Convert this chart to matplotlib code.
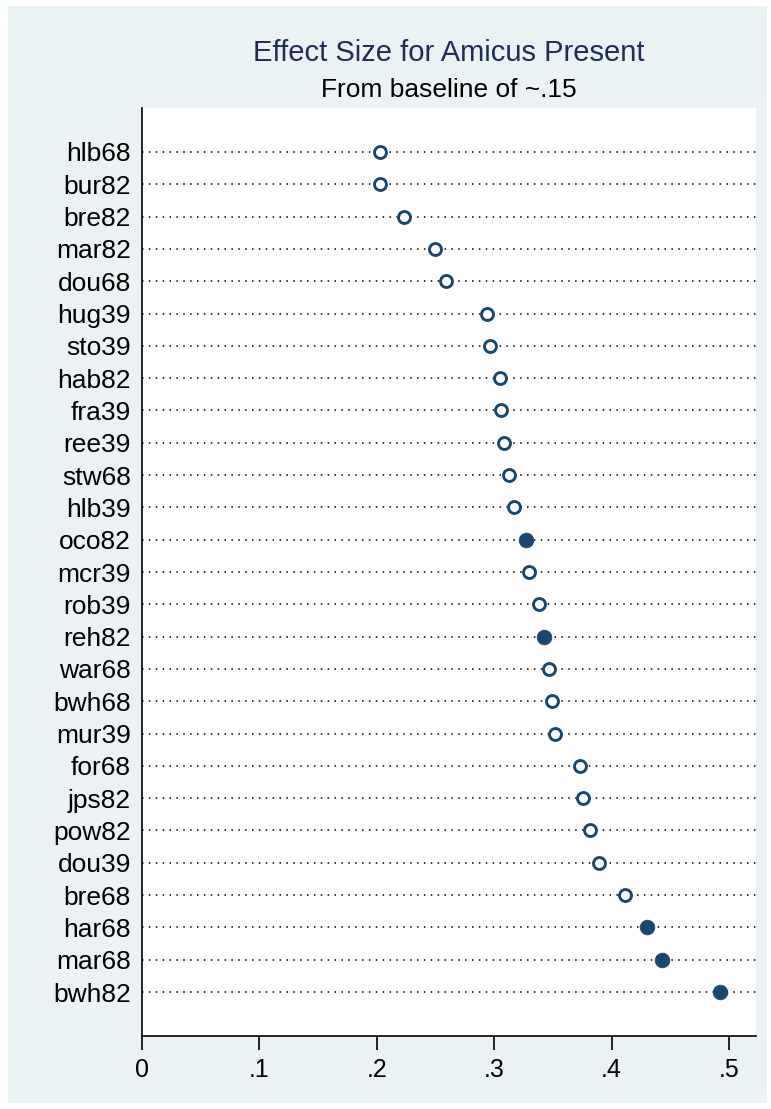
import numpy as np
import matplotlib.pyplot as plt
from matplotlib.patches import Rectangle

plt.rcParams['font.family'] = ['Liberation Sans', 'DejaVu Sans']

# justices, top to bottom
labels = ['hlb68', 'bur82', 'bre82', 'mar82', 'dou68', 'hug39', 'sto39', 'hab82',
          'fra39', 'ree39', 'stw68', 'hlb39', 'oco82', 'mcr39', 'rob39', 'reh82',
          'war68', 'bwh68', 'mur39', 'for68', 'jps82', 'pow82', 'dou39', 'bre68',
          'har68', 'mar68', 'bwh82']
effect = [0.203, 0.203, 0.223, 0.250, 0.259, 0.294, 0.296, 0.305,
          0.306, 0.308, 0.313, 0.317, 0.327, 0.330, 0.338, 0.342,
          0.347, 0.349, 0.352, 0.373, 0.376, 0.382, 0.389, 0.411,
          0.430, 0.443, 0.492]
# filled marker = significant
signif = [0, 0, 0, 0, 0, 0, 0, 0,
          0, 0, 0, 0, 1, 0, 0, 1,
          0, 0, 0, 0, 0, 0, 0, 0,
          1, 1, 1]
xticks = [0, 0.1, 0.2, 0.3, 0.4, 0.5]
xticklabels = ['0', '.1', '.2', '.3', '.4', '.5']

navy = '#1a476f'
bg = '#eaf2f3'

W, H = 771, 1109
fig = plt.figure(figsize=(W / 100, H / 100), dpi=100, facecolor='white')
fig.patches.append(Rectangle((8 / W, 1 - 1103 / H), (767 - 8) / W, (1103 - 6) / H,
                             transform=fig.transFigure, facecolor=bg,
                             edgecolor='none', zorder=-10))

x0, x1 = 142, 756
ax = fig.add_axes([x0 / W, 1 - 1036 / H, (x1 - x0) / W, (1036 - 108) / H])
ax.set_facecolor('white')

n = len(labels)
ypos = np.arange(n)
ax.hlines(ypos, 0, 0.523, colors='black', linestyles=(0, (1, 3.5)), linewidth=1.1, zorder=1)

effect = np.array(effect)
signif = np.array(signif, dtype=bool)
ax.plot(effect[~signif], ypos[~signif], 'o', ms=8.6, mfc='white', mec=navy, mew=2.1,
        linestyle='none', zorder=3)
ax.plot(effect[signif], ypos[signif], 'o', ms=10.5, mfc=navy, mec=navy, mew=0.6,
        linestyle='none', zorder=3)

ax.set_xlim(0, 0.523)
ax.set_ylim(n - 1 + 1.36, -1.36)
ax.set_yticks(ypos)
ax.set_yticklabels(labels, fontsize=19)
ax.tick_params(axis='y', length=0, pad=8)
ax.set_xticks(xticks)
ax.set_xticklabels(xticklabels, fontsize=18)
ax.tick_params(axis='x', length=10, width=1.2, pad=6, direction='out')

for s in ['top', 'right']:
    ax.spines[s].set_visible(False)
ax.spines['left'].set_linewidth(1.2)
ax.spines['bottom'].set_linewidth(1.2)

# titles centred over the plot region
xc = (x0 + x1) / 2 / W
fig.text(xc, 1 - 53 / H, 'Effect Size for Amicus Present', ha='center', va='center',
         fontsize=21, color='#1e2d58')
fig.text(xc, 1 - 90 / H, 'From baseline of ~.15', ha='center', va='center',
         fontsize=19, color='black')

fig.savefig('out.png', dpi=100, facecolor='white')
